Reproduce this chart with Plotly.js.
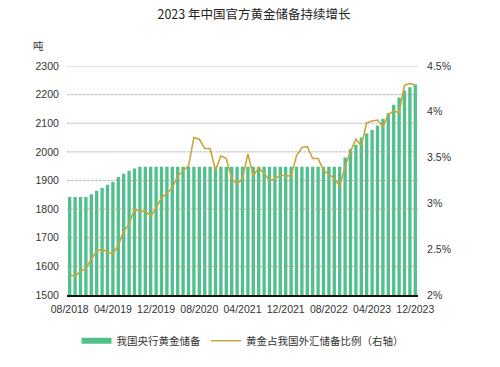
<!DOCTYPE html>
<html>
<head>
<meta charset="utf-8">
<script src="https://cdn.plot.ly/plotly-3.0.1.min.js"></script>
<style>html,body{margin:0;padding:0;background:#fff;}#chart{width:500px;height:367px;}</style>
</head>
<body>
<div id="chart"></div>
<script>
const months = [
  '08/2018','09/2018','10/2018','11/2018','12/2018',
  '01/2019','02/2019','03/2019','04/2019','05/2019','06/2019','07/2019','08/2019','09/2019','10/2019','11/2019','12/2019',
  '01/2020','02/2020','03/2020','04/2020','05/2020','06/2020','07/2020','08/2020','09/2020','10/2020','11/2020','12/2020',
  '01/2021','02/2021','03/2021','04/2021','05/2021','06/2021','07/2021','08/2021','09/2021','10/2021','11/2021','12/2021',
  '01/2022','02/2022','03/2022','04/2022','05/2022','06/2022','07/2022','08/2022','09/2022','10/2022','11/2022','12/2022',
  '01/2023','02/2023','03/2023','04/2023','05/2023','06/2023','07/2023','08/2023','09/2023','10/2023','11/2023','12/2023'
];
// 我国央行黄金储备 (吨)
const goldTons = [
  1842,1842,1842,1842,1852,
  1864,1874,1885,1895,1912,1924,1934,1942,1948,1948,1948,1948,
  1948,1948,1948,1948,1948,1948,1948,1948,1948,1948,1948,1948,
  1948,1948,1948,1948,1948,1948,1948,1948,1948,1948,1948,1948,
  1948,1948,1948,1948,1948,1948,1948,1948,1948,1948,1980,2010,
  2025,2050,2064,2076,2092,2115,2136,2165,2190,2214,2226,2235
];
// 黄金占我国外汇储备比例 (%)
const goldShare = [
  2.22,2.20,2.26,2.29,2.39,
  2.48,2.50,2.47,2.45,2.54,2.70,2.77,2.94,2.91,2.92,2.86,2.95,
  3.06,3.11,3.17,3.30,3.36,3.41,3.72,3.70,3.60,3.60,3.36,3.52,
  3.49,3.27,3.21,3.27,3.54,3.30,3.39,3.33,3.25,3.27,3.31,3.30,
  3.30,3.52,3.61,3.62,3.49,3.49,3.36,3.32,3.27,3.19,3.40,3.57,
  3.70,3.63,3.88,3.90,3.91,3.84,3.97,4.01,3.99,4.29,4.31,4.29
];
const xTickLabels = ['08/2018','04/2019','12/2019','08/2020','04/2021','12/2021','08/2022','04/2023','12/2023'];
const tonTicks = [1500,1600,1700,1800,1900,2000,2100,2200,2300];
const shareTicks = [2,2.5,3,3.5,4,4.5];
const shareTickLabels = ['2%','2.5%','3%','3.5%','4%','4.5%'];

const green = '#52c08d';
const gold = '#c9a63b';
const tickFont = {family: 'Liberation Sans, Arial, sans-serif', size: 10.5, color: '#333'};
const cjk = 'Noto Sans CJK SC, sans-serif';

const traces = [
  {type: 'bar', x: months, y: goldTons, marker: {color: green}, showlegend: false, hoverinfo: 'x+y'},
  {type: 'scatter', mode: 'lines', x: [null], y: [null], name: '我国央行黄金储备',
   line: {color: green, width: 6}},
  {type: 'scatter', mode: 'lines', x: months, y: goldShare, yaxis: 'y2', name: '黄金占我国外汇储备比例（右轴）',
   line: {color: gold, width: 1.6}}
];

const shapes = tonTicks.filter(v => v > tonTicks[0]).map(v => ({
  type: 'line', xref: 'paper', x0: 0, x1: 1, yref: 'y', y0: v, y1: v,
  layer: 'above', line: {color: 'rgba(160,160,160,0.75)', width: 1, dash: '3px,1px'}
}));

const layout = {
  width: 500, height: 367,
  margin: {l: 67, r: 82, t: 66, b: 70},
  paper_bgcolor: '#fff', plot_bgcolor: '#fff',
  title: {text: '2023 年中国官方黄金储备持续增长', font: {family: cjk, size: 12.5, color: '#222'},
          x: 0.508, xanchor: 'center', y: 0.96, yanchor: 'middle', yref: 'container'},
  bargap: 0.38,
  xaxis: {type: 'category', range: [-0.5, months.length - 0.5], tickmode: 'array',
          tickvals: xTickLabels, ticktext: xTickLabels, tickangle: 0, showgrid: false,
          showline: true, linecolor: '#111', linewidth: 1.5, ticks: 'outside', ticklen: 4,
          tickcolor: 'rgba(0,0,0,0)', tickfont: tickFont, zeroline: false},
  yaxis: {range: [1500, 2300], tickmode: 'array', tickvals: tonTicks, showgrid: false, zeroline: false,
          ticks: 'outside', ticklen: 5, tickcolor: 'rgba(0,0,0,0)', tickfont: tickFont},
  yaxis2: {range: [2, 4.5], overlaying: 'y', side: 'right', tickmode: 'array', tickvals: shareTicks,
           ticktext: shareTickLabels, showgrid: false, zeroline: false, ticks: 'outside', ticklen: 6,
           tickcolor: 'rgba(0,0,0,0)', tickfont: tickFont},
  legend: {orientation: 'h', x: 0.5, xanchor: 'center', y: -0.2, yanchor: 'middle',
           font: {family: cjk, size: 10.5, color: '#333'}, bgcolor: 'rgba(0,0,0,0)'},
  shapes: shapes,
  annotations: [{text: '吨', xref: 'paper', yref: 'paper', x: -0.06, y: 1.09, xanchor: 'right',
                 yanchor: 'middle', showarrow: false, font: {family: cjk, size: 10.5, color: '#333'}}]
};

Plotly.newPlot('chart', traces, layout, {displayModeBar: false, staticPlot: true});
</script>
</body>
</html>
